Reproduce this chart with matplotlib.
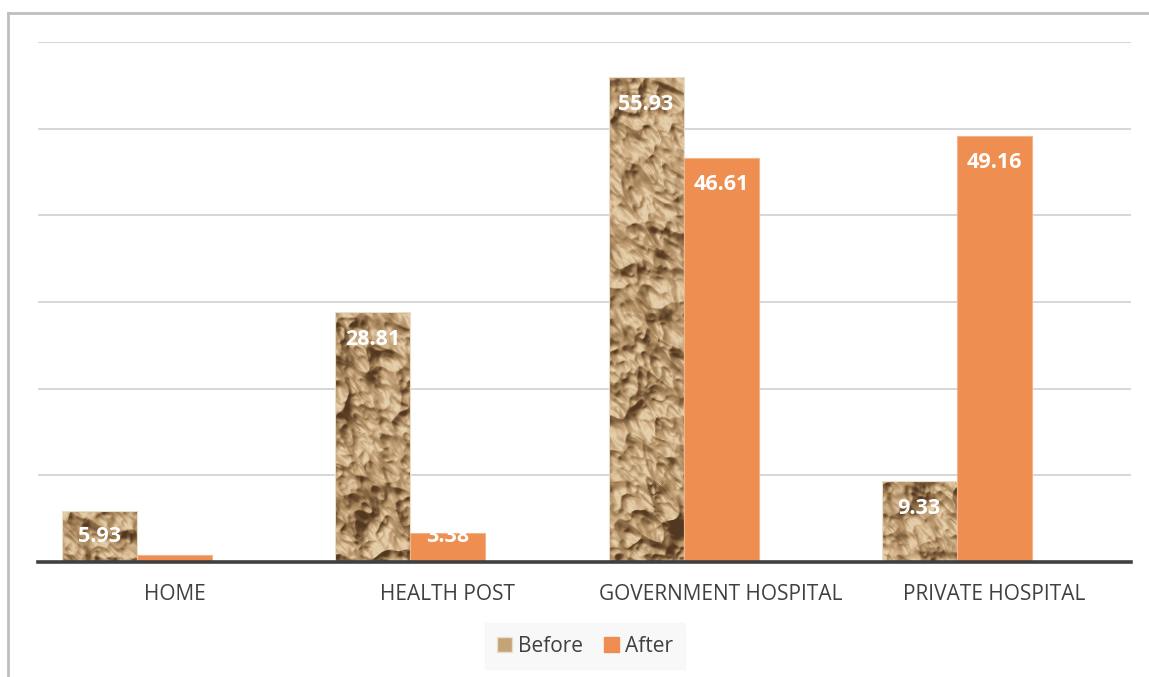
import numpy as np
import matplotlib
matplotlib.use("Agg")
import matplotlib.pyplot as plt
from matplotlib.colors import LinearSegmentedColormap
from matplotlib.patches import Patch
from matplotlib.lines import Line2D

categories = ["HOME", "HEALTH POST", "GOVERNMENT HOSPITAL", "PRIVATE HOSPITAL"]
before = [5.93, 28.81, 55.93, 9.33]
after = [0.85, 3.38, 46.61, 49.16]
after_labels = [None, "3.38", "46.61", "49.16"]
before_labels = ["5.93", "28.81", "55.93", "9.33"]

plt.rcParams["font.family"] = ["Open Sans", "DejaVu Sans"]

ORANGE = "#EE8E50"
TEXT = "#404040"


def _band_noise(rng, h, w, scale, stretch=1.8, angle=-0.7):
    """Gaussian-filtered noise with a diagonal grain."""
    noise = rng.normal(size=(h, w))
    fy = np.fft.fftfreq(h)[:, None]
    fx = np.fft.fftfreq(w)[None, :]
    u = fx * np.cos(angle) + fy * np.sin(angle)
    v = -fx * np.sin(angle) + fy * np.cos(angle)
    s = 2 * np.pi * scale
    filt = np.exp(-((u * s / stretch) ** 2 + (v * s) ** 2) / 2)
    out = np.real(np.fft.ifft2(np.fft.fft2(noise) * filt))
    return out / out.std()


def crumpled_paper(h, w, seed=7):
    """Procedural crumpled-paper texture as an RGB array."""
    rng = np.random.default_rng(seed)
    z = np.zeros((h, w))
    for scale, amp in [(13, 9.0), (6, 4.0), (3, 1.3)]:
        n = _band_noise(rng, h, w, scale)
        z += amp * (1 - np.abs(n))          # ridged: sharp creases
    z += 8 * _band_noise(rng, h, w, 30, stretch=1.2)
    gy, gx = np.gradient(z)
    nz = 1.0 / np.sqrt(gx ** 2 + gy ** 2 + 1)
    lx, ly, lz = -0.45, -0.6, 0.66
    shade = (-gx * lx - gy * ly + lz) * nz
    lo, hi = np.percentile(shade, 1), np.percentile(shade, 99.5)
    shade = np.clip((shade - lo) / (hi - lo), 0, 1)
    cmap = LinearSegmentedColormap.from_list(
        "paper", ["#523820", "#7d5e3d", "#a6855c", "#bd9b71", "#cfb088", "#e6d1ad"])
    return cmap(shade)[:, :, :3]


fig = plt.figure(figsize=(11.49, 6.77), dpi=100)
fig.patch.set_facecolor("white")
ax = fig.add_axes([38 / 1149, 1 - 562 / 677, (1131 - 38) / 1149, (562 - 42) / 677])

ax.set_xlim(-0.5, 3.5)
ax.set_ylim(0, 60)
ax.set_axisbelow(True)
ax.yaxis.grid(True, color="#d0d0d0", linewidth=1.2)
ax.set_yticks([10, 20, 30, 40, 50, 60])
ax.tick_params(axis="y", length=0, labelleft=False)
for s in ["left", "right", "top"]:
    ax.spines[s].set_visible(False)
ax.spines["bottom"].set_color("#404040")
ax.spines["bottom"].set_linewidth(2.6)
ax.spines["bottom"].set_zorder(6)

x = np.arange(len(categories))
w = 0.2745

tex = crumpled_paper(520, 1093)
before_bars = ax.bar(x - w, before, width=w, align="center", facecolor="none",
                     edgecolor="#eadfcd", linewidth=0.8, zorder=3)
for bar in before_bars:
    im = ax.imshow(tex, extent=(-0.5, 3.5, 0, 60), origin="upper",
                   aspect="auto", zorder=2.5, interpolation="bilinear")
    im.set_clip_path(bar)

after_bars = ax.bar(x, after, width=w, align="center", color=ORANGE,
                    edgecolor="#f4b48a", linewidth=0.8, zorder=3)

ax.set_aspect("auto")
ax.set_xlim(-0.5, 3.5)
ax.set_ylim(0, 60)


def label_y(v):
    return max(v - 3.1, 2.9)


for xi, v, t in zip(x - w, before, before_labels):
    ax.text(xi, label_y(v), t, ha="center", va="center", color="white",
            fontsize=15.5, fontweight="bold", zorder=5)
for xi, v, t in zip(x, after, after_labels):
    if t:
        ax.text(xi, label_y(v), t, ha="center", va="center", color="white",
                fontsize=15.5, fontweight="bold", zorder=5)

ax.set_xticks(x)
ax.set_xticklabels(categories, fontsize=15, color=TEXT)
ax.tick_params(axis="x", length=0, pad=16)

handles = [Patch(facecolor="#c4a377", edgecolor="#eadfcd"),
           Patch(facecolor=ORANGE, edgecolor=ORANGE)]
leg = fig.legend(handles, ["Before", "After"], loc="center",
                 bbox_to_anchor=(585 / 1149, 1 - 646 / 677), ncol=2,
                 frameon=True, facecolor="#f7f7f7", edgecolor="#f7f7f7",
                 fontsize=15, handlelength=0.7, handleheight=0.7,
                 handletextpad=0.3, columnspacing=1.0, borderpad=0.6,
                 labelcolor=TEXT, fancybox=False)

# chart-area border (left and top edges)
fig.add_artist(Line2D([7.5 / 1149, 7.5 / 1149], [0, 1 - 12.5 / 677],
                      color="#bfbfbf", linewidth=2, transform=fig.transFigure))
fig.add_artist(Line2D([7.5 / 1149, 1], [1 - 12.5 / 677, 1 - 12.5 / 677],
                      color="#bfbfbf", linewidth=2, transform=fig.transFigure))

fig.savefig("out.png", dpi=100)
